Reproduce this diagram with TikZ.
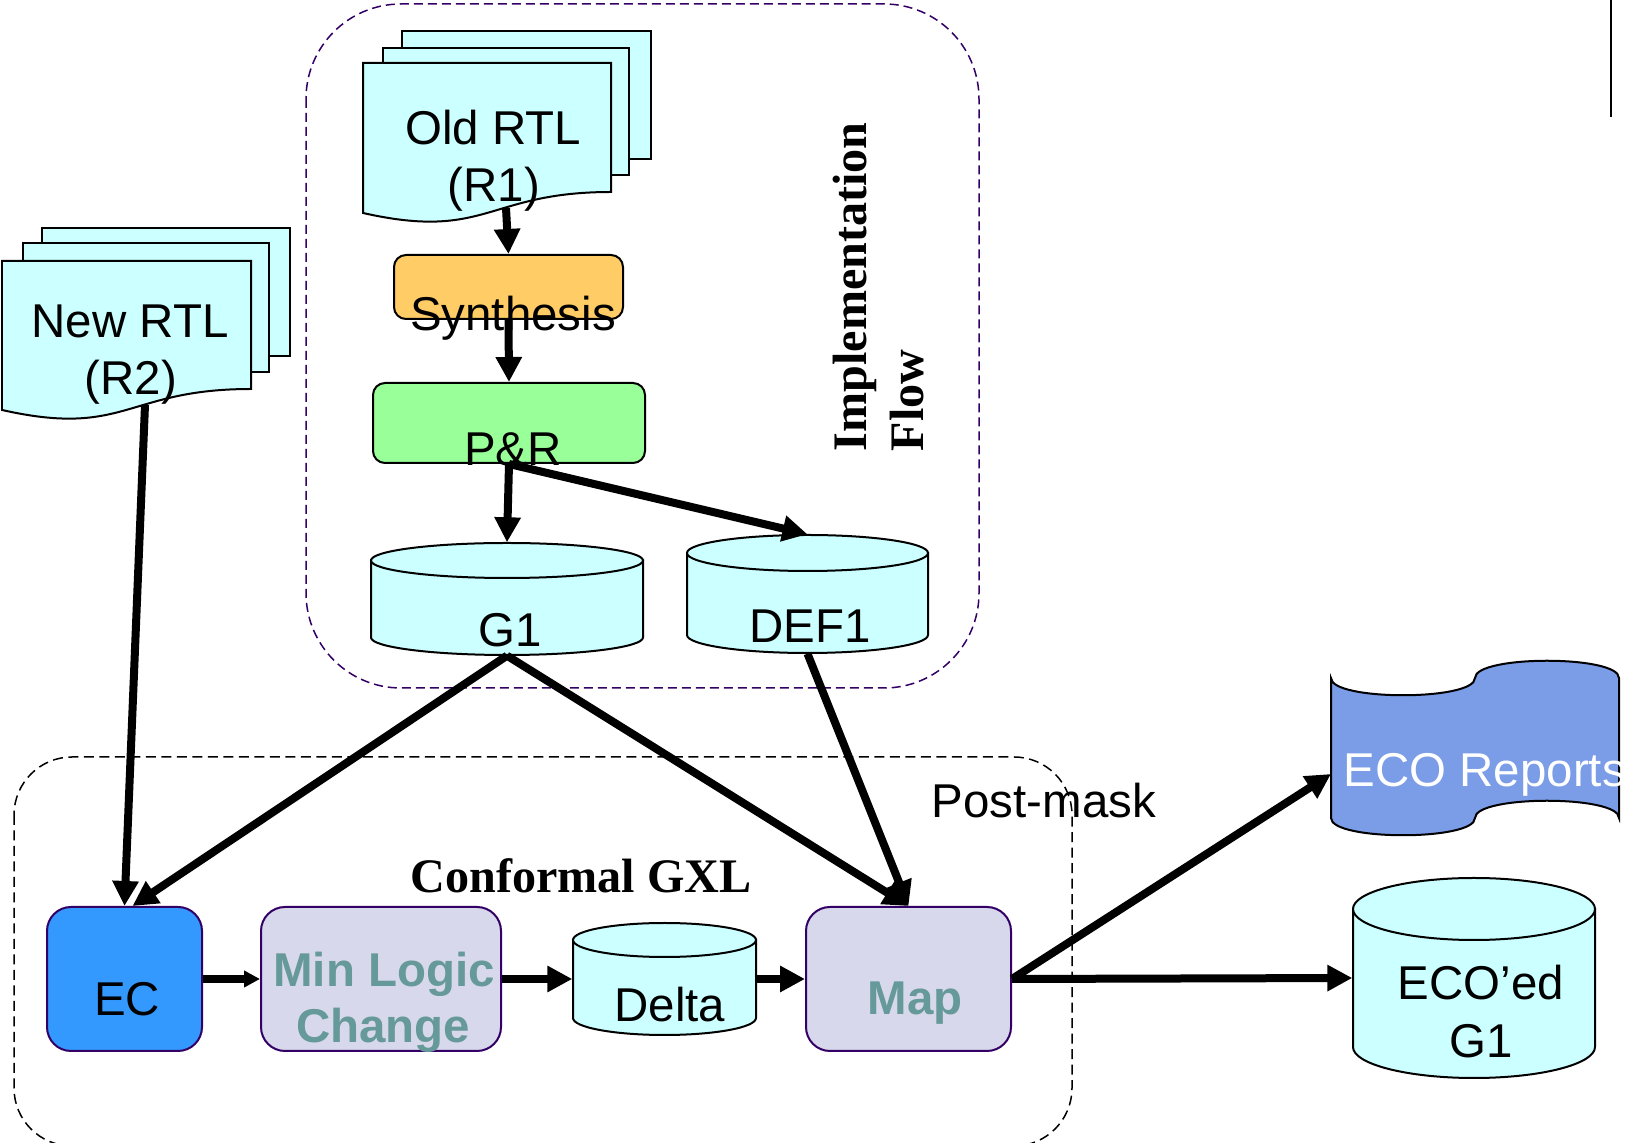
\documentclass[tikz,border=0pt]{standalone}
\usepackage{fontspec}
\setmainfont{Liberation Sans}
\newfontfamily\headfont{Liberation Serif}
\usetikzlibrary{arrows.meta,calc}

\definecolor{paper}{RGB}{204,255,255}
\definecolor{synth}{RGB}{255,204,102}
\definecolor{placed}{RGB}{153,255,153}
\definecolor{ecblue}{RGB}{51,153,255}
\definecolor{lilac}{RGB}{216,216,236}
\definecolor{logictxt}{RGB}{102,153,153}
\definecolor{edgepurple}{RGB}{51,0,102}
\definecolor{reportblue}{RGB}{123,156,230}

\tikzset{
  txt/.style={font=\fontsize{13.5}{16.2}\selectfont, inner sep=0pt, anchor=base},
  headtxt/.style={txt, font=\headfont\bfseries\fontsize{13.7}{16.4}\selectfont},
  logicfont/.style={font=\bfseries\fontsize{13.5}{16.2}\selectfont, text=logictxt},
  box/.style={draw=edgepurple, line width=0.2mm, rounded corners=2.4mm, inner sep=0pt},
  paperline/.style={draw=black, fill=paper, line width=0.2mm},
  flow/.style={line width=0.8mm, -{Triangle[length=2.5mm,width=2.5mm]}}
}

% drum{name}{left}{top}{right}{bottom}{ry}
\newcommand{\drum}[6]{%
  \pgfmathsetmacro\dcx{(#2+#4)/2}
  \pgfmathsetmacro\dcy{(#3+#5)/2}
  \pgfmathsetmacro\drx{(#4-#2)/2}
  \pgfmathsetmacro\dyt{#3+#6}
  \pgfmathsetmacro\dyb{#5-#6}
  \pgfmathsetmacro\dkx{0.5523*\drx}
  \pgfmathsetmacro\dky{0.5523*#6}
  \pgfmathsetmacro\dw{(#4-#2)/10}
  \pgfmathsetmacro\dh{(#5-#3)/10}
  \filldraw[paperline] (#2,\dyt) -- (#2,\dyb)
    .. controls (#2,\dyb+\dky) and (\dcx-\dkx,#5) .. (\dcx,#5)
    .. controls (\dcx+\dkx,#5) and (#4,\dyb+\dky) .. (#4,\dyb)
    -- (#4,\dyt) -- cycle;
  \filldraw[paperline] (#2,\dyt)
    .. controls (#2,\dyt-\dky) and (\dcx-\dkx,#3) .. (\dcx,#3)
    .. controls (\dcx+\dkx,#3) and (#4,\dyt-\dky) .. (#4,\dyt)
    .. controls (#4,\dyt+\dky) and (\dcx+\dkx,\dyt+#6) .. (\dcx,\dyt+#6)
    .. controls (\dcx-\dkx,\dyt+#6) and (#2,\dyt+\dky) .. (#2,\dyt) -- cycle;
  \node[inner sep=0pt, minimum width=\dw mm, minimum height=\dh mm] (#1) at (\dcx,\dcy) {};
}

\begin{document}
\begin{tikzpicture}[x=0.1mm, y=-0.1mm]
		%%%%% START %%%%%
		\useasboundingbox (0,0) rectangle (1629,1143);
		
		% the two regions
		\draw[edgepurple, line width=0.15mm, dash pattern=on 0.9mm off 0.5mm, rounded corners=9.5mm] (306,4) rectangle (979,688);
		\draw[line width=0.15mm, dash pattern=on 1mm off 0.55mm, rounded corners=5.8mm] (14,757) rectangle (1072,1146);
		
		\draw[line width=0.25mm] (1611,0) -- (1611,117);
		
		% old rtl
		\draw[paperline] (402,31) rectangle (651,159);
		\draw[paperline] (383,48) rectangle (629,175);
		\draw[paperline] (363,63) -- (611,63) -- (611,192) .. controls (487,192) and (487,241) .. (363,213) -- cycle;
		
		% new rtl
		\draw[paperline] (42,228) rectangle (290,356);
		\draw[paperline] (23,243) rectangle (269,372);
		\draw[paperline] (2,261) -- (251,261) -- (251,389) .. controls (126,389) and (126,438) .. (2,410) -- cycle;
		
		\node[box, draw=black, fill=synth, rounded corners=1.2mm, minimum width=22.9mm, minimum height=6.4mm] (syn) at (508.5,287) {};
		\node[box, draw=black, fill=placed, rounded corners=1.2mm, minimum width=27.2mm, minimum height=8mm] (pr) at (509,423) {};
		
		\drum{gone}{371}{543}{643}{655}{17.5}
		\drum{defone}{687}{535}{928}{653}{18}
		
		\node[box, fill=ecblue, minimum width=15.5mm, minimum height=14.4mm] (ec) at (124.5,979) {};
		\node[box, fill=lilac, minimum width=24mm, minimum height=14.4mm] (mlc) at (381,979) {};
		\drum{delta}{573}{923}{756}{1035}{17}
		\node[box, fill=lilac, minimum width=20.5mm, minimum height=14.4mm] (map) at (908.5,979) {};
		
		% eco reports
		\draw[paperline, fill=reportblue] (1331,678) .. controls (1331,701) and (1475,701) .. (1475,678)
			.. controls (1475,655) and (1619,655) .. (1619,678) -- (1619,818)
			.. controls (1619,795) and (1475,795) .. (1475,818)
			.. controls (1475,841) and (1331,841) .. (1331,818) -- cycle;
		\drum{ecog}{1353}{878}{1595}{1078}{31}
		
		% labels
		\node[txt] (oldA) at (493,145) {Old RTL};
		\node[txt] (oldB) at (494,202) {(R1)};
		\node[txt] (newA) at (130,338) {New RTL};
		\node[txt] (newB) at (131,395) {(R2)};
		\node[txt] (syntxt) at (513,331) {Synthesis};
		\node[txt] (prtxt) at (513,466) {P\&R};
		\node[txt] (gonetxt) at (510,647) {G1};
		\node[txt] (defonetxt) at (810,643) {DEF1};
		\node[headtxt, rotate=90, anchor=base west] (impA) at (866,452) {Implementation};
		\node[headtxt, rotate=90, anchor=base west] (impB) at (923,452) {Flow};
		\node[txt] (posttxt) at (1044,818) {Post-mask};
		\node[headtxt] (gxltxt) at (581,893) {Conformal GXL};
		\node[txt] (ectxt) at (127,1016) {EC};
		\node[txt, logicfont] (mlcA) at (384,987) {Min Logic};
		\node[txt, logicfont] (mlcB) at (383,1043) {Change};
		\node[txt] (deltatxt) at (670,1022) {Delta};
		\node[txt, logicfont] (maptxt) at (915,1015) {Map};
		\node[txt, text=white, anchor=base west] (reptxt) at (1343,787) {ECO Reports};
		\node[txt] (ecogA) at (1481,1000) {ECO’ed};
		\node[txt] (ecogB) at (1481,1058) {G1};
		
		% connectors
		\coordinate (oldout) at (506,208);
		\coordinate (newout) at (145,405);
		\coordinate (repin) at (1331,774);
		
		\draw[flow] (oldout) -- (syn.north);
		\draw[flow] (syn.south) -- (pr.north);
		\draw[flow] (pr.south) -- (gone.north);
		\draw[flow] (pr.south) -- (defone.north);
		\draw[flow] (newout) -- (ec.north);
		\draw[flow] (gone.south) -- ([xshift=0.8mm]ec.north);
		\draw[flow] (gone.south) -- (map.north);
		\draw[flow] (defone.south) -- (map.north);
		\draw[flow, -{Triangle[length=1.6mm,width=1.6mm]}] (ec.east) -- (mlc.west);
		\draw[flow] (mlc.east) -- (delta.west);
		\draw[flow] (delta.east) -- (map.west);
		\draw[flow] (map.east) -- (repin);
		\draw[flow] (map.east) -- (ecog.west);
		
		%%%%% END %%%%%
\end{tikzpicture}
\end{document}
